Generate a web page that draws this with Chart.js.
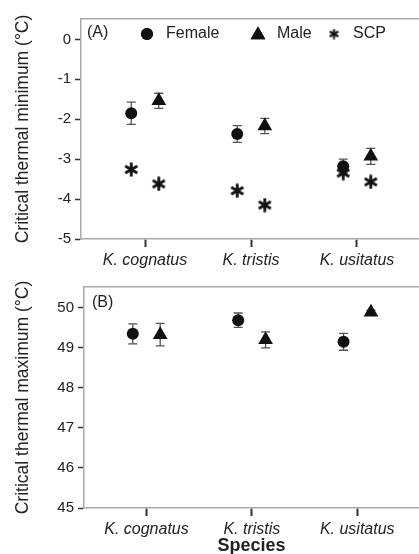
<!DOCTYPE html>
<html>
<head>
<meta charset="utf-8">
<script src="https://cdn.jsdelivr.net/npm/chart.js@4.4.1/dist/chart.umd.min.js"></script>
<style>
  html, body { margin: 0; padding: 0; background: #fff; overflow: hidden; }
  #wrap { position: relative; width: 419px; height: 554px; overflow: hidden; }
  canvas { position: absolute; left: 0; }
  #c1 { top: 0; }
  #c2 { top: 270px; }
</style>
</head>
<body>
<div id="wrap">
  <canvas id="c1" width="419" height="270"></canvas>
  <canvas id="c2" width="419" height="300"></canvas>
</div>
<script>
// ---------- DATA ----------
const categories = ['K. cognatus', 'K. tristis', 'K. usitatus'];
const legendLabels = ['Female', 'Male', 'SCP'];

// Panel A: critical thermal minimum (°C)
const ctminFemale    = [-1.85, -2.37, -3.18];
const ctminFemaleErr = [0.28, 0.21, 0.18];
const ctminMale      = [-1.54, -2.17, -2.93];
const ctminMaleErr   = [0.19, 0.19, 0.20];
const scpFemale      = [-3.26, -3.79, -3.35];
const scpMale        = [-3.62, -4.15, -3.57];
const ctminTicks     = [0, -1, -2, -3, -4, -5];

// Panel B: critical thermal maximum (°C)
const ctmaxFemale    = [49.35, 49.69, 49.15];
const ctmaxFemaleErr = [0.25, 0.18, 0.21];
const ctmaxMale      = [49.33, 49.20, 49.89];
const ctmaxMaleErr   = [0.28, 0.20, 0.05];
const ctmaxTicks     = [50, 49, 48, 47, 46, 45];

// ---------- STYLE ----------
const FONT = "'Liberation Sans', Arial, sans-serif";
const FEMALE_OFF = -0.13, MALE_OFF = 0.13;
const INK = '#111';

// asterisk marker (6 arms)
function makeAsterisk(size, lw) {
  const c = document.createElement('canvas');
  c.width = size; c.height = size;
  const g = c.getContext('2d');
  g.strokeStyle = INK; g.lineWidth = lw; g.lineCap = 'butt';
  const r = size / 2 - 0.5;
  for (let k = 0; k < 3; k++) {
    const a = Math.PI / 2 + k * Math.PI / 3;
    g.beginPath();
    g.moveTo(size / 2 + Math.cos(a) * r, size / 2 - Math.sin(a) * r);
    g.lineTo(size / 2 - Math.cos(a) * r, size / 2 + Math.sin(a) * r);
    g.stroke();
  }
  return c;
}
const starBig = makeAsterisk(15, 2.8);
const starSmall = makeAsterisk(11, 2.1);

function pts(vals, off) { return vals.map((v, i) => ({ x: i + off, y: v })); }

const errorBarPlugin = {
  id: 'errbars',
  beforeDatasetsDraw(chart) {
    const ctx = chart.ctx, ys = chart.scales.y;
    chart.data.datasets.forEach((ds, di) => {
      if (!ds.errors) return;
      const meta = chart.getDatasetMeta(di);
      ctx.save();
      ctx.strokeStyle = '#555';
      ctx.lineWidth = 1.3;
      meta.data.forEach((el, i) => {
        const v = ds.data[i].y, e = ds.errors[i];
        const y1 = ys.getPixelForValue(v + e), y2 = ys.getPixelForValue(v - e);
        const x = el.x;
        ctx.beginPath();
        ctx.moveTo(x, y1); ctx.lineTo(x, y2);
        ctx.moveTo(x - 4.5, y1); ctx.lineTo(x + 4.5, y1);
        ctx.moveTo(x - 4.5, y2); ctx.lineTo(x + 4.5, y2);
        ctx.stroke();
      });
      ctx.restore();
    });
  }
};

function panelLabelPlugin(label, dx, showLegend) {
  return {
    id: 'panelLabel',
    afterDraw(chart) {
      const ctx = chart.ctx, a = chart.chartArea;
      ctx.save();
      ctx.fillStyle = '#222';
      ctx.font = '16px ' + FONT;
      ctx.textBaseline = 'middle';
      ctx.textAlign = 'left';
      ctx.fillText(label, a.left + dx, 33);
      if (showLegend) {
        ctx.fillStyle = INK; ctx.strokeStyle = INK;
        Chart.helpers.drawPoint(ctx, { pointStyle: 'circle', radius: 6, borderWidth: 0, rotation: 0 }, 147, 34);
        ctx.fill();
        Chart.helpers.drawPoint(ctx, { pointStyle: 'triangle', radius: 8.5, borderWidth: 0, rotation: 0 }, 258, 35);
        ctx.fill();
        ctx.drawImage(starSmall, 334 - 5.5, 34 - 5.5);
        ctx.fillStyle = '#222';
        ctx.fillText(legendLabels[0], 166, 34);
        ctx.fillText(legendLabels[1], 277, 34);
        ctx.fillText(legendLabels[2], 353, 34);
      }
      ctx.restore();
    }
  };
}

function noPad(s) { s.paddingLeft = 0; s.paddingRight = 0; s.paddingTop = 0; s.paddingBottom = 0; }

function makePanel(id, opts) {
  const datasets = [
    { label: legendLabels[0], data: pts(opts.female, FEMALE_OFF), errors: opts.femaleErr,
      pointStyle: 'circle', pointRadius: 6, backgroundColor: INK, borderColor: INK, borderWidth: 0 },
    { label: legendLabels[1], data: pts(opts.male, MALE_OFF), errors: opts.maleErr,
      pointStyle: 'triangle', pointRadius: 8.5, backgroundColor: INK, borderColor: INK, borderWidth: 0 }
  ];
  if (opts.scpF) {
    datasets.push({ label: legendLabels[2], data: pts(opts.scpF, FEMALE_OFF).concat(pts(opts.scpM, MALE_OFF)),
      pointStyle: starBig, pointRadius: 7, backgroundColor: INK, borderColor: INK });
  }
  return new Chart(document.getElementById(id), {
    type: 'scatter',
    data: { datasets },
    plugins: [errorBarPlugin, panelLabelPlugin(opts.label, opts.labelDx, !!opts.scpF)],
    options: {
      responsive: false,
      animation: false,
      events: [],
      layout: { padding: 0, autoPadding: false },
      plugins: { legend: { display: false }, tooltip: { enabled: false } },
      scales: {
        x: {
          type: 'linear', position: 'bottom',
          min: opts.xmin, max: opts.xmax,
          afterFit(s) { s.height = opts.xHeight; noPad(s); },
          afterBuildTicks(s) { s.ticks = categories.map((c, i) => ({ value: i })); },
          ticks: { autoSkip: false, color: '#222', padding: 4,
                   font: { family: FONT, size: 16, style: 'italic' },
                   callback: (v) => categories[v] },
          grid: { drawOnChartArea: false, tickLength: 8, tickWidth: 2, color: '#333' },
          border: { color: '#aaa', width: 1.5 },
          title: opts.xTitle ? { display: true, text: opts.xTitle, color: '#222',
                   font: { family: FONT, size: 18, weight: 'bold' }, padding: { top: 0, bottom: opts.xTitlePad } }
                 : { display: false }
        },
        x2: {
          type: 'linear', position: 'top', min: 0, max: 1,
          afterFit(s) { s.height = opts.topH; noPad(s); },
          afterBuildTicks(s) { s.ticks = []; },
          ticks: { display: false },
          grid: { drawOnChartArea: false, drawTicks: false },
          border: { color: '#aaa', width: 1.5 }
        },
        y: {
          type: 'linear', position: 'left',
          min: opts.ymin, max: opts.ymax,
          afterFit(s) { s.width = opts.yWidth; noPad(s); },
          afterBuildTicks(s) { s.ticks = opts.yTicks.map(v => ({ value: v })); },
          ticks: { color: '#222', padding: 4, font: { family: FONT, size: 15 } },
          grid: { drawOnChartArea: false, tickLength: 6, tickWidth: 1.5, color: '#333' },
          border: { color: '#aaa', width: 1.5 },
          title: { display: true, text: opts.yTitle, color: '#222',
                   font: { family: FONT, size: 17.5 }, padding: { top: 12.5, bottom: 0 } }
        }
      }
    }
  });
}

makePanel('c1', {
  label: '(A)', labelDx: 6,
  female: ctminFemale, femaleErr: ctminFemaleErr,
  male: ctminMale, maleErr: ctminMaleErr,
  scpF: scpFemale, scpM: scpMale,
  ymin: -5, ymax: 0.51, yTicks: ctminTicks,
  xmin: -0.604, xmax: 2.585,
  yWidth: 81, xHeight: 31, topH: 19,
  yTitle: 'Critical thermal minimum (°C)'
});

makePanel('c2', {
  label: '(B)', labelDx: 8,
  female: ctmaxFemale, femaleErr: ctmaxFemaleErr,
  male: ctmaxMale, maleErr: ctmaxMaleErr,
  ymin: 45, ymax: 50.52, yTicks: ctmaxTicks,
  xmin: -0.593, xmax: 2.586,
  yWidth: 84, xHeight: 62, topH: 17,
  yTitle: 'Critical thermal maximum (°C)',
  xTitle: 'Species', xTitlePad: 12.8
});
</script>
</body>
</html>
